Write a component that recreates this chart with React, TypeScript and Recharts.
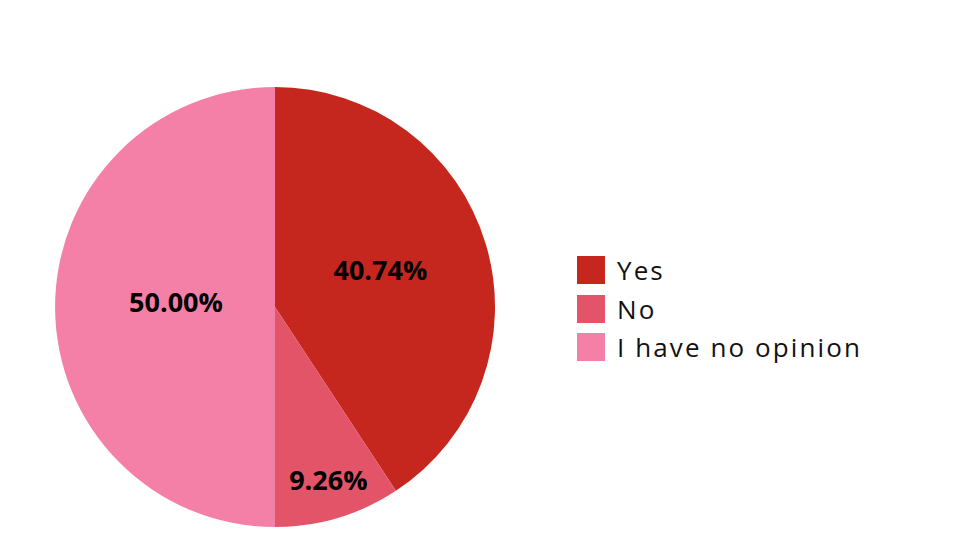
import { PieChart, Pie, Cell, Legend } from 'recharts';

const answers = ['Yes', 'No', 'I have no opinion'];
const counts = [22, 5, 27];
const colors = ['#C5271E', '#E35468', '#F480A8'];
// how far out (share of the radius) each slice's percentage sits
const labelDepth = [0.5, 0.845, 0.45];

const data = answers.map((name, i) => ({ name, value: counts[i] }));

const RAD = Math.PI / 180;

function renderLabel(props: any) {
  const { cx, cy, midAngle, outerRadius, percent, index } = props;
  const r = outerRadius * labelDepth[index];
  const x = cx + r * Math.cos(-midAngle * RAD);
  const y = cy + r * Math.sin(-midAngle * RAD);
  return (
    <text
      x={x}
      y={y - 6}
      fill="#000"
      textAnchor="middle"
      dominantBaseline="central"
      style={{ fontFamily: '"Open Sans", sans-serif', fontWeight: 700, fontSize: 27 }}
    >
      {(percent * 100).toFixed(2)}%
    </text>
  );
}

function LegendBox() {
  return (
    <div style={{ fontFamily: '"Open Sans", sans-serif' }}>
      {data.map((d, i) => (
        <div key={d.name} style={{ display: 'flex', alignItems: 'center', height: 38.5 }}>
          <span style={{ width: 28, height: 28, background: colors[i], display: 'inline-block' }} />
          <span style={{ marginLeft: 12, fontSize: 26, letterSpacing: 2.1, color: '#111' }}>{d.name}</span>
        </div>
      ))}
    </div>
  );
}

export default function App() {
  return (
    <div style={{ position: 'fixed', left: 0, top: 0, width: 980, height: 551, background: '#fff' }}>
      <PieChart width={980} height={551} margin={{ top: 0, right: 0, bottom: 0, left: 0 }}>
        <Pie
          data={data}
          dataKey="value"
          nameKey="name"
          cx={275}
          cy={307}
          outerRadius={220}
          startAngle={90}
          endAngle={-270}
          stroke="none"
          labelLine={false}
          label={renderLabel}
          isAnimationActive={false}
        >
          {data.map((d, i) => (
            <Cell key={d.name} fill={colors[i]} />
          ))}
        </Pie>
        <Legend
          content={() => <LegendBox />}
          wrapperStyle={{ left: 577, top: 251, width: 360 }}
        />
      </PieChart>
    </div>
  );
}
